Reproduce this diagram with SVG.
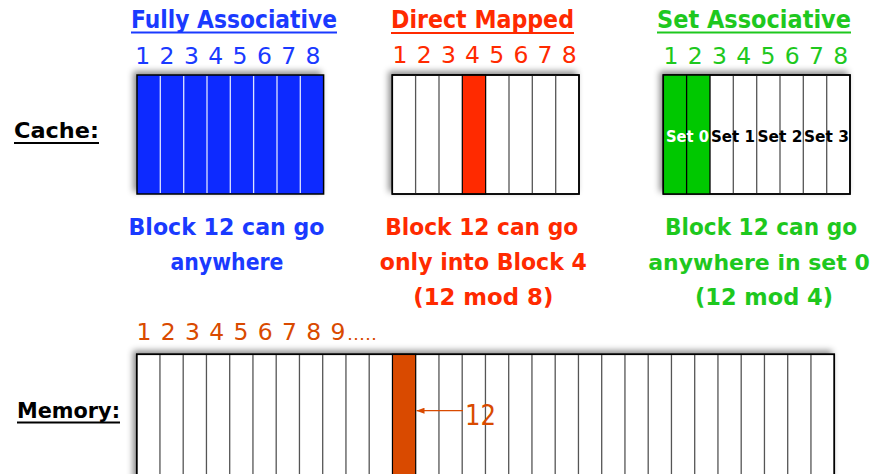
<svg xmlns="http://www.w3.org/2000/svg" width="878" height="474" viewBox="0 0 878 474">
<defs>
<style>
.t{font-family:"DejaVu Sans","Liberation Sans",sans-serif;font-weight:bold}
.d{font-family:"DejaVu Sans","Liberation Sans",sans-serif;font-size:23.5px;text-anchor:middle}
.b{fill:#1a3aff}.r{fill:#ff2a00}.g{fill:#1ec81e}.o{fill:#d94a00}
.box{stroke:#000;stroke-width:1.5}
.sep{stroke:#555;stroke-width:1.3}
.sepw{stroke:#dfe4ff;stroke-width:1.3}
.lbl{font-size:23px;text-anchor:middle}
.set{font-size:15.5px;text-anchor:middle}
</style>
<filter id="sh" x="-10%" y="-20%" width="120%" height="140%">
<feDropShadow dx="-3" dy="-3" stdDeviation="3" flood-color="#000" flood-opacity="0.45"/>
</filter>
<marker id="ah" markerWidth="8" markerHeight="6" refX="8" refY="3" orient="auto" markerUnits="userSpaceOnUse">
<path d="M0,0 L8,3 L0,6 Z" fill="#d94a00"/>
</marker>
</defs>
<rect width="878" height="474" fill="#fff"/>

<g id="labels">
<text class="t" x="14" y="138" font-size="22" textLength="85" lengthAdjust="spacingAndGlyphs">Cache:</text>
<line x1="14" y1="143" x2="99" y2="143" stroke="#000" stroke-width="2"/>
<text class="t" x="17" y="418" font-size="22" textLength="103" lengthAdjust="spacingAndGlyphs">Memory:</text>
<line x1="17" y1="422.5" x2="120" y2="422.5" stroke="#000" stroke-width="2"/>
</g>

<g id="fully-associative">
<text class="t b" x="131" y="28" font-size="25" textLength="206" lengthAdjust="spacingAndGlyphs">Fully Associative</text>
<line x1="131" y1="32.5" x2="337" y2="32.5" stroke="#1a3aff" stroke-width="2"/>
<text class="d b" x="142.7 167 191.4 215.7 240 264.4 288.7 313" y="64">12345678</text>
<rect class="box" x="137" y="75" width="186.6" height="119" fill="#0a2cff" filter="url(#sh)"/>
<g class="sepw">
<line x1="160.3" y1="76" x2="160.3" y2="193"/><line x1="183.7" y1="76" x2="183.7" y2="193"/>
<line x1="207" y1="76" x2="207" y2="193"/><line x1="230.3" y1="76" x2="230.3" y2="193"/>
<line x1="253.6" y1="76" x2="253.6" y2="193"/><line x1="277" y1="76" x2="277" y2="193"/>
<line x1="300.3" y1="76" x2="300.3" y2="193"/>
</g>
<text class="t lbl b" x="226.5" y="234.5" textLength="196" lengthAdjust="spacingAndGlyphs">Block 12 can go</text>
<text class="t lbl b" x="227" y="270" textLength="113" lengthAdjust="spacingAndGlyphs">anywhere</text>
</g>

<g id="direct-mapped">
<text class="t r" x="391" y="28" font-size="25" textLength="183" lengthAdjust="spacingAndGlyphs">Direct Mapped</text>
<line x1="391" y1="33" x2="574" y2="33" stroke="#ff2a00" stroke-width="2"/>
<text class="d r" x="400 424.2 448.4 472.6 496.8 520.9 545.1 569.3" y="63">12345678</text>
<rect class="box" x="392.3" y="75" width="186.7" height="119" fill="#fff" filter="url(#sh)"/>
<rect x="462.3" y="75" width="23.35" height="119" fill="#ff2a00" stroke="#000" stroke-width="1.2"/>
<g class="sep">
<line x1="415.6" y1="75" x2="415.6" y2="194"/><line x1="439" y1="75" x2="439" y2="194"/>
<line x1="509" y1="75" x2="509" y2="194"/><line x1="532.3" y1="75" x2="532.3" y2="194"/>
<line x1="555.7" y1="75" x2="555.7" y2="194"/>
</g>
<rect x="392.3" y="75" width="186.7" height="119" fill="none" class="box"/>
<text class="t lbl r" x="481.7" y="235" textLength="193" lengthAdjust="spacingAndGlyphs">Block 12 can go</text>
<text class="t lbl r" x="483.3" y="270" textLength="207" lengthAdjust="spacingAndGlyphs">only into Block 4</text>
<text class="t lbl r" x="483.3" y="305" textLength="140" lengthAdjust="spacingAndGlyphs">(12 mod 8)</text>
</g>

<g id="set-associative">
<text class="t g" x="657" y="28" font-size="25" textLength="194" lengthAdjust="spacingAndGlyphs">Set Associative</text>
<line x1="657" y1="32.5" x2="851" y2="32.5" stroke="#1ec81e" stroke-width="2"/>
<text class="d g" x="671 695.2 719.5 743.7 767.9 792.2 816.4 840.7" y="64">12345678</text>
<rect class="box" x="663.3" y="75" width="186.7" height="119" fill="#fff" filter="url(#sh)"/>
<rect x="663.3" y="75" width="46.7" height="119" fill="#00c800"/>
<g class="sep">
<line x1="686.6" y1="75" x2="686.6" y2="194" stroke="#000"/><line x1="710" y1="75" x2="710" y2="194" stroke="#000"/>
<line x1="733.3" y1="75" x2="733.3" y2="194"/><line x1="756.7" y1="75" x2="756.7" y2="194"/>
<line x1="780" y1="75" x2="780" y2="194"/><line x1="803.3" y1="75" x2="803.3" y2="194"/>
<line x1="826.7" y1="75" x2="826.7" y2="194"/>
</g>
<rect x="663.3" y="75" width="186.7" height="119" fill="none" class="box"/>
<text class="t set" x="687.5" y="142" fill="#fff" textLength="43" lengthAdjust="spacingAndGlyphs">Set 0</text>
<text class="t set" x="733" y="142" fill="#000" textLength="44" lengthAdjust="spacingAndGlyphs">Set 1</text>
<text class="t set" x="780" y="142" fill="#000" textLength="45" lengthAdjust="spacingAndGlyphs">Set 2</text>
<text class="t set" x="826.5" y="142" fill="#000" textLength="45" lengthAdjust="spacingAndGlyphs">Set 3</text>
<text class="t lbl g" x="761" y="235" textLength="192" lengthAdjust="spacingAndGlyphs">Block 12 can go</text>
<text class="t g" x="759" y="270" font-size="22" text-anchor="middle">anywhere in set 0</text>
<text class="t lbl g" x="764" y="305" textLength="138" lengthAdjust="spacingAndGlyphs">(12 mod 4)</text>
</g>

<g id="memory">
<text class="d o" x="144 168.25 192.5 216.75 241 265.25 289.5 313.75 338" y="340">123456789</text>
<text class="o" x="347" y="340" font-family="DejaVu Sans, sans-serif" font-size="16" textLength="30" lengthAdjust="spacingAndGlyphs">.....</text>
<rect x="136.7" y="354.3" width="697.6" height="130" fill="#fff" class="box" filter="url(#sh)"/>
<rect x="392.45" y="354.3" width="23.25" height="130" fill="#d94a00" stroke="#000" stroke-width="1.2"/>
<g class="sep">
<line x1="159.95" y1="354" x2="159.95" y2="474"/><line x1="183.2" y1="354" x2="183.2" y2="474"/>
<line x1="206.45" y1="354" x2="206.45" y2="474"/><line x1="229.7" y1="354" x2="229.7" y2="474"/>
<line x1="252.95" y1="354" x2="252.95" y2="474"/><line x1="276.2" y1="354" x2="276.2" y2="474"/>
<line x1="299.45" y1="354" x2="299.45" y2="474"/><line x1="322.7" y1="354" x2="322.7" y2="474"/>
<line x1="345.95" y1="354" x2="345.95" y2="474"/><line x1="369.2" y1="354" x2="369.2" y2="474"/>
<line x1="438.95" y1="354" x2="438.95" y2="474"/><line x1="462.2" y1="354" x2="462.2" y2="474"/>
<line x1="485.45" y1="354" x2="485.45" y2="474"/><line x1="508.7" y1="354" x2="508.7" y2="474"/>
<line x1="531.95" y1="354" x2="531.95" y2="474"/><line x1="555.2" y1="354" x2="555.2" y2="474"/>
<line x1="578.45" y1="354" x2="578.45" y2="474"/><line x1="601.7" y1="354" x2="601.7" y2="474"/>
<line x1="624.95" y1="354" x2="624.95" y2="474"/><line x1="648.2" y1="354" x2="648.2" y2="474"/>
<line x1="671.45" y1="354" x2="671.45" y2="474"/><line x1="694.7" y1="354" x2="694.7" y2="474"/>
<line x1="717.95" y1="354" x2="717.95" y2="474"/><line x1="741.2" y1="354" x2="741.2" y2="474"/>
<line x1="764.45" y1="354" x2="764.45" y2="474"/><line x1="787.7" y1="354" x2="787.7" y2="474"/>
<line x1="810.95" y1="354" x2="810.95" y2="474"/>
</g>
<rect x="136.7" y="354.3" width="697.6" height="130" fill="none" class="box"/>
</g>

<g id="connectors">
<line x1="463" y1="410.7" x2="416.5" y2="410.7" stroke="#d94a00" stroke-width="1.3" marker-end="url(#ah)"/>
</g>
<g id="label-12">
<text class="o" x="465" y="425" font-family="DejaVu Sans, sans-serif" font-size="28" textLength="31" lengthAdjust="spacingAndGlyphs">12</text>
</g>
</svg>
